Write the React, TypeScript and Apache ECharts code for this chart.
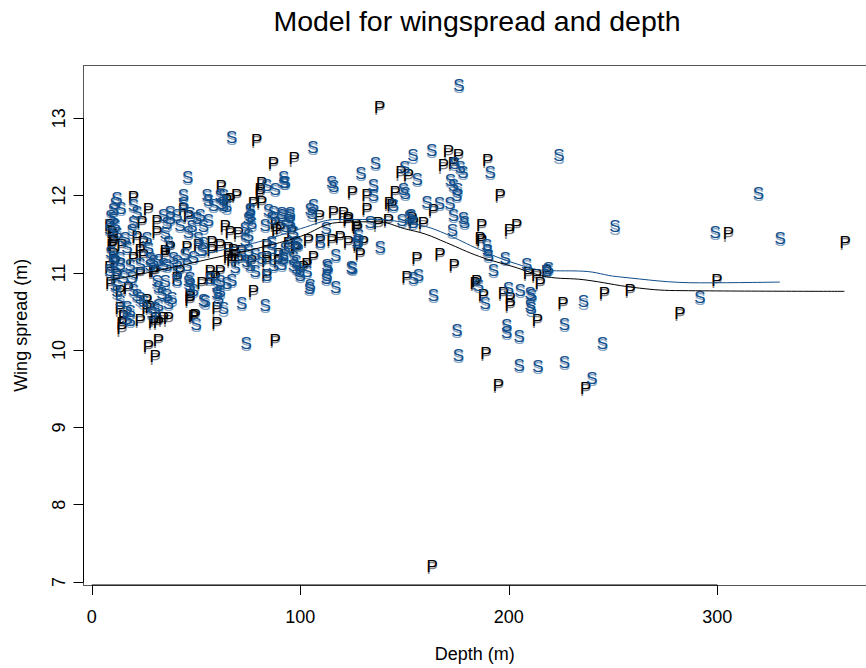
import React, { useEffect, useRef } from "react";
import * as echarts from "echarts";

const FONT = "'Liberation Sans', Arial, Helvetica, sans-serif";
const S_COLOR = "#104E8B";
const P_COLOR = "#000000";
const BOX_COLOR = "#555";

const xTicks = [0, 100, 200, 300];
const yTicks = [7, 8, 9, 10, 11, 12, 13];

// Species S: [depth (m), wing spread (m)]
const sPoints: number[][] = [
  [176, 13.41], [106, 12.61], [92, 12.22], [92, 12.16], [115, 12.16], [116, 12.1],
  [129, 12.27], [136, 12.4], [154, 12.5], [163, 12.57], [174, 12.4], [176.6, 12.35],
  [178, 12.29], [191, 12.29], [224, 12.5], [150, 12.35], [156, 12.2], [135, 12.12],
  [135, 11.99], [149.4, 12.07], [150.3, 12.01], [144.6, 11.86], [172, 12.18], [173.4, 12.12],
  [175, 11.99], [175.5, 12.06], [160.7, 11.9], [166.7, 11.88], [171.8, 11.88], [173.4, 11.73],
  [178.2, 11.69], [178.7, 11.64], [106.3, 11.86], [105.5, 11.75], [95, 11.73], [91, 11.73],
  [133.5, 11.64], [148.7, 11.66], [153, 11.73], [154, 11.64], [152.3, 11.71], [128, 11.47],
  [173, 11.53], [189.4, 11.34], [189.7, 11.28], [190.2, 11.21], [198.2, 11.17], [192.6, 11.02],
  [208.6, 11.1], [218.2, 11.02], [219, 11.04], [109.5, 11.38], [127.1, 11.38], [127.6, 11.41],
  [138.3, 11.32], [98, 11.38], [98.8, 11.35], [117, 11.21], [112.7, 11.08], [112.7, 10.95],
  [125, 11.04], [99.9, 10.95], [104.7, 10.82], [104.4, 10.78], [117, 10.8], [154.2, 10.91],
  [156.6, 10.95], [185.4, 10.82], [163.8, 10.69], [199.8, 10.78], [205.4, 10.76], [210.2, 10.72],
  [250.9, 11.58], [299, 11.51], [330.1, 11.43], [291.7, 10.67], [235.8, 10.61], [226.7, 10.32],
  [244.9, 10.07], [226.7, 9.83], [239.8, 9.62], [175.1, 10.24], [175.8, 9.92], [204.9, 9.79],
  [213.9, 9.78], [199, 10.31], [199, 10.22], [204.9, 10.16], [210.2, 10.57], [210.7, 10.52],
  [188.6, 10.59], [211, 10.69], [319.7, 12.01], [98, 11.13], [99.6, 11.0], [113.2, 11.06],
  [112.4, 10.91], [124.4, 11.06], [112.4, 11.56],
  [67.1, 12.74], [46, 12.22], [83.9, 12.12], [87.9, 12.07], [43.9, 11.99], [43.9, 11.88],
  [55.2, 11.99], [55.9, 11.92], [58.3, 11.86], [63.1, 11.99], [63.1, 11.86], [64.7, 11.84],
  [11.2, 11.88], [10.4, 11.81], [20, 11.86], [21.6, 11.77], [37.6, 11.77], [40.8, 11.73],
  [37.6, 11.69], [47.1, 11.75], [87.1, 11.77], [95.1, 11.64], [75.9, 11.79], [75.1, 11.69],
  [104.7, 11.81], [10.4, 11.69], [11.2, 11.6], [12, 11.49], [20, 11.64], [19.2, 11.53],
  [34.3, 11.73], [36, 11.62], [42.3, 11.6], [48, 11.58], [50.4, 11.69], [16, 11.43],
  [16.8, 11.32], [26.4, 11.43], [27.1, 11.3], [35.2, 11.49], [36.7, 11.38], [46.3, 11.51],
  [44.7, 11.23], [48.7, 11.19], [10.4, 11.19], [13.6, 11.17], [28, 11.17], [31.9, 11.15],
  [39.1, 11.17], [10.4, 11.13], [13.6, 11.1], [18.4, 11.08], [23.2, 11.1], [28, 11.08],
  [34.3, 11.1], [40.8, 11.13], [45.6, 11.08], [11.2, 10.98], [15.2, 10.93], [19.2, 10.93],
  [31.2, 10.87], [35.2, 10.87], [40.8, 10.89], [47.1, 10.91], [11.2, 10.82], [12, 10.74],
  [13.6, 10.61], [16.8, 10.54], [18.4, 10.48], [20, 10.76], [21.6, 10.69], [23.2, 10.65],
  [24.7, 10.61], [31.9, 10.8], [33.6, 10.72], [36, 10.69], [38.4, 10.65], [36.7, 10.59],
  [31.9, 10.57], [30.4, 10.52], [47.1, 10.82], [48.7, 10.76], [18.4, 10.37], [16.8, 10.4],
  [28.8, 10.46], [50, 10.32], [74, 10.07], [54.3, 10.61], [63.1, 10.52], [71.9, 10.59],
  [83.1, 10.57], [46.3, 10.87], [61.5, 10.74], [60.7, 10.65], [64.7, 10.85], [67.1, 10.89],
  [75.9, 11.08], [78.3, 11.0], [83.9, 10.95], [87.1, 11.08], [91.9, 11.21], [95.1, 11.36],
  [103.1, 11.0], [60, 10.82], [60, 10.72], [29.5, 11.13], [36, 11.08], [40.8, 11.0],
  [68.7, 11.06], [74.3, 11.13], [71.9, 11.21], [61.5, 11.99], [62.3, 11.88], [92.7, 12.16],
  [75.9, 11.81], [75.9, 11.71], [76.7, 11.62], [51.9, 11.73], [55.9, 11.66], [53.5, 11.58],
  [84.7, 11.79], [86.3, 11.69], [83.1, 11.6], [91.1, 11.75], [95.1, 11.75], [73.5, 11.56],
  [75.1, 11.47], [73.5, 11.41], [94.3, 11.66], [92.7, 11.58], [96.7, 11.51], [86.3, 11.38],
  [86.3, 11.3], [92.7, 11.3], [51.1, 11.43], [53.5, 11.36], [52.8, 11.28], [75.1, 11.28],
  [78.3, 11.23], [81.5, 11.17], [91.9, 11.17], [96.7, 11.19], [91.1, 11.1], [96.7, 11.08],
  [98.3, 11.04], [56.7, 10.91], [61.5, 10.87], [53.5, 10.63], [8.5, 11.02], [9, 11.25],
  [8.5, 11.55], [9, 11.72], [12, 11.95], [14, 11.82],
];

// Species P: [depth (m), wing spread (m)]
const pPoints: number[][] = [
  [138, 13.13], [97, 12.46], [171, 12.55], [175.8, 12.5], [168.6, 12.37], [173.4, 12.4],
  [189.9, 12.44], [148.2, 12.28], [151.8, 12.24], [131.9, 11.99], [145.5, 12.03], [125, 12.03],
  [143.9, 11.86], [131.9, 11.81], [142.7, 11.88], [195.8, 11.99], [163.8, 11.79], [109.2, 11.71],
  [115.9, 11.77], [120.7, 11.75], [123.1, 11.69], [122.8, 11.66], [90.3, 11.56], [95.9, 11.52],
  [137.5, 11.62], [142.3, 11.66], [154.2, 11.64], [159, 11.62], [153.5, 11.69], [127.4, 11.56],
  [126.8, 11.6], [187, 11.6], [200.3, 11.53], [203.8, 11.6], [186.2, 11.43], [187, 11.41],
  [103.9, 11.41], [109.5, 11.41], [115.1, 11.41], [119.1, 11.45], [123.1, 11.38], [130.3, 11.38],
  [127.6, 11.34], [106.3, 11.19], [128.7, 11.23], [101.5, 11.06], [155.9, 11.17], [167, 11.23],
  [173.8, 11.08], [151.1, 10.93], [184.6, 10.87], [187.8, 10.69], [197.4, 10.72], [305.3, 11.49],
  [361.3, 11.38], [299.8, 10.89], [282.1, 10.46], [258.2, 10.76], [245.8, 10.72], [225.9, 10.59],
  [236.9, 9.49], [189, 9.94], [195, 9.53], [213.7, 10.37], [200.6, 10.57], [200.6, 10.65],
  [183.8, 10.85], [215, 10.85], [209.4, 10.98], [213.4, 10.95], [218.2, 11.0], [163.2, 7.19],
  [79.1, 12.7], [87.1, 12.4], [81.5, 12.14], [62, 12.1], [69.5, 11.99], [64.7, 11.92],
  [66.3, 11.94], [20, 11.96], [27.1, 11.8], [24, 11.64], [43.9, 11.81], [46.3, 11.72],
  [31.2, 11.65], [81.5, 11.9], [77.5, 11.88], [80.7, 12.07], [80.7, 12.01], [10.4, 11.47],
  [31.2, 11.51], [9.6, 11.51], [10.4, 11.41], [9.6, 11.34], [21.6, 11.45], [24.7, 11.38],
  [37.6, 11.32], [45.6, 11.32], [20, 11.17], [24.7, 11.21], [35.2, 11.23], [29.5, 11.0],
  [42.3, 11.0], [23.2, 10.98], [17.6, 10.78], [13.6, 10.74], [47.1, 10.69], [47.1, 10.63],
  [26.4, 10.63], [28, 10.54], [26.4, 10.52], [13.6, 10.52], [15.2, 10.42], [14.4, 10.33],
  [14.4, 10.26], [23.2, 10.37], [30.4, 10.39], [34.3, 10.39], [36.7, 10.39], [29.5, 10.35],
  [31.9, 10.35], [48.7, 10.42], [27.1, 10.03], [31.9, 10.11], [30.4, 9.9], [87.9, 10.11],
  [49.5, 10.44], [60, 10.33], [60, 10.52], [77.5, 10.74], [47.1, 10.67], [52.8, 10.85],
  [56.7, 10.91], [40.8, 10.91], [35.2, 11.26], [30.4, 11.0], [65.5, 11.19], [67.9, 11.28],
  [23.2, 11.28], [10.4, 11.38], [14.4, 11.34], [10.4, 11.23], [11.2, 11.13], [83.9, 11.34],
  [98.3, 11.3], [103.1, 11.1], [87.9, 11.62], [88.7, 11.53], [63.9, 11.58], [66.3, 11.51],
  [70.3, 11.49], [94.3, 11.36], [97.5, 11.32], [51.1, 11.34], [57.6, 11.38], [61.5, 11.34],
  [57.6, 11.28], [65.5, 11.3], [68.7, 11.21], [71.9, 11.26], [67.1, 11.15], [83.9, 11.19],
  [89.5, 11.23], [70.3, 11.15], [76.7, 11.13], [83.9, 11.13], [89.5, 11.13], [83.9, 10.95],
  [56.7, 11.0], [59.1, 10.93], [61.5, 11.0], [8.5, 11.05], [9, 10.85], [8.5, 11.6], [12, 10.95],
];

// Fitted smooth curves
const pLineDepth = [8, 30, 60, 80, 100, 118, 137, 150, 160, 170, 186, 202, 218, 236, 260, 280, 361];
const pLineWing = [10.9, 11.02, 11.2, 11.32, 11.47, 11.65, 11.66, 11.57, 11.5, 11.39, 11.21, 11.08, 10.95, 10.91, 10.81, 10.77, 10.76];
const sLineDepth = [8, 30, 60, 80, 100, 118, 137, 150, 160, 170, 186, 202, 218, 236, 252, 292, 330];
const sLineWing = [11.0, 11.1, 11.28, 11.4, 11.57, 11.69, 11.69, 11.65, 11.6, 11.5, 11.3, 11.13, 11.03, 11.02, 10.95, 10.87, 10.88];

const X_MIN = -4;
const X_MAX = 371.3;
const Y_MIN = 6.961;
const Y_MAX = 13.679;

function letterSeries(data: number[][], letter: string, color: string) {
  return {
    type: "custom",
    data,
    clip: false,
    z: 2,
    renderItem: (params: any, api: any) => {
      const c = api.coord([api.value(0), api.value(1)]);
      const mk = (dy: number, op: number) => ({
        type: "text",
        x: c[0],
        y: c[1] + dy,
        style: {
          text: letter,
          fill: color,
          opacity: op,
          font: `17px ${FONT}`,
          align: "center",
          verticalAlign: "middle",
        },
      });
      return { type: "group", children: [mk(1.2, 0.5), mk(-1, 1)] };
    },
  };
}

export default function App() {
  const ref = useRef<HTMLDivElement>(null);
  useEffect(() => {
    document.body.style.margin = "0";
    if (!ref.current) return;
    const chart = echarts.init(ref.current, null, { renderer: "svg" });
    const axisLabelStyle = { fontSize: 18, color: "#000", fontFamily: FONT };
    chart.setOption({
      animation: false,
      backgroundColor: "#fff",
      title: {
        text: "Model for wingspread and depth",
        left: 472,
        textAlign: "center",
        top: 1,
        textStyle: { fontSize: 28.5, fontWeight: "normal", color: "#000", fontFamily: FONT },
      },
      grid: {
        left: 83.5,
        top: 65.7,
        right: 0,
        bottom: 82.3,
        show: false,
        containLabel: false,
      },
      xAxis: [
        {
          type: "value",
          min: X_MIN,
          max: X_MAX,
          axisLine: { show: true, onZero: false, lineStyle: { color: BOX_COLOR, width: 1 } },
          axisTick: { show: true, length: 10, lineStyle: { color: "#000" }, customValues: xTicks },
          axisLabel: { ...axisLabelStyle, margin: 23, customValues: xTicks },
          splitLine: { show: false },
          name: "Depth (m)",
          nameLocation: "middle",
          nameGap: 60,
          nameTextStyle: { fontSize: 18, color: "#000", fontFamily: FONT },
        },
        {
          type: "value",
          position: "top",
          min: X_MIN,
          max: X_MAX,
          axisLine: { show: true, onZero: false, lineStyle: { color: BOX_COLOR, width: 1 } },
          axisTick: { show: false },
          axisLabel: { show: false },
          splitLine: { show: false },
        },
      ],
      yAxis: {
        type: "value",
        min: Y_MIN,
        max: Y_MAX,
        axisLine: { show: true, onZero: false, lineStyle: { color: BOX_COLOR, width: 1 } },
        axisTick: { show: true, length: 10, lineStyle: { color: "#000" }, customValues: yTicks },
        axisLabel: { ...axisLabelStyle, margin: 16, rotate: 90, customValues: yTicks },
        splitLine: { show: false },
        name: "Wing spread (m)",
        nameLocation: "middle",
        nameGap: 54,
        nameRotate: 90,
        nameTextStyle: { fontSize: 18, color: "#000", fontFamily: FONT },
      },
      series: [
        {
          type: "line",
          data: [[xTicks[0], Y_MIN], [xTicks[xTicks.length - 1], Y_MIN]],
          symbol: "none",
          clip: false,
          lineStyle: { color: "#000", width: 1 },
          silent: true,
          z: 3,
        },
        {
          type: "line",
          data: [[X_MIN, yTicks[0]], [X_MIN, yTicks[yTicks.length - 1]]],
          symbol: "none",
          clip: false,
          lineStyle: { color: "#000", width: 1 },
          silent: true,
          z: 3,
        },
        letterSeries(pPoints, "P", P_COLOR),
        letterSeries(sPoints, "S", S_COLOR),
        {
          type: "line",
          data: pLineDepth.map((d, i) => [d, pLineWing[i]]),
          symbol: "none",
          smooth: 0.4,
          lineStyle: { color: P_COLOR, width: 1 },
          z: 4,
        },
        {
          type: "line",
          data: sLineDepth.map((d, i) => [d, sLineWing[i]]),
          symbol: "none",
          smooth: 0.4,
          lineStyle: { color: S_COLOR, width: 1 },
          z: 4,
        },
      ],
    });
    return () => chart.dispose();
  }, []);
  return <div ref={ref} style={{ width: 866, height: 668 }} />;
}
